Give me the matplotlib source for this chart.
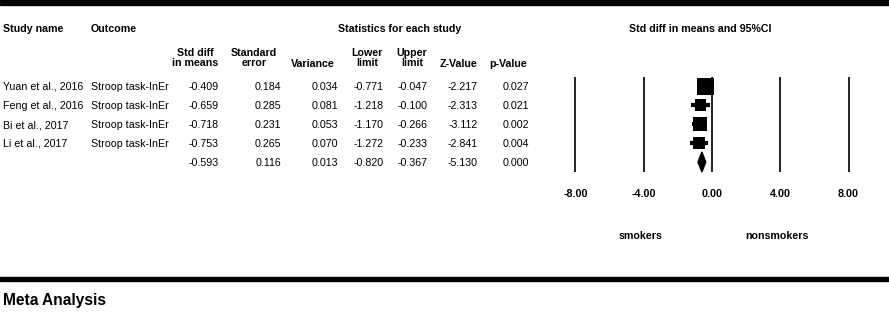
import numpy as np
import matplotlib
matplotlib.use("Agg")
import matplotlib.pyplot as plt
from matplotlib.patches import Rectangle, Polygon

# ---------------------------------------------------------------------------
# data
# ---------------------------------------------------------------------------
studies = ["Yuan et al., 2016", "Feng et al., 2016", "Bi et al., 2017", "Li et al., 2017"]
outcomes = ["Stroop task-InEr"] * 4
smd = [-0.409, -0.659, -0.718, -0.753]
se = [0.184, 0.285, 0.231, 0.265]
variance = [0.034, 0.081, 0.053, 0.070]
lower = [-0.771, -1.218, -1.170, -1.272]
upper = [-0.047, -0.100, -0.266, -0.233]
zval = [-2.217, -2.313, -3.112, -2.841]
pval = [0.027, 0.021, 0.002, 0.004]

# pooled row
pooled = {"smd": -0.593, "se": 0.116, "var": 0.013, "lo": -0.820,
          "hi": -0.367, "z": -5.130, "p": 0.000}

ticks = [-8, -4, 0, 4, 8]
tick_labels = ["-8.00", "-4.00", "0.00", "4.00", "8.00"]
left_label, right_label = "smokers", "nonsmokers"

# ---------------------------------------------------------------------------
W, H = 889, 313
DPI = 100
FS = 7.7
FONT = ["Liberation Sans", "DejaVu Sans"]
plt.rcParams["font.family"] = FONT

fig = plt.figure(figsize=(W / DPI, H / DPI), dpi=DPI)


def fx(x):
    return x / W


def fy(y):
    return 1 - y / H


def put(x, y, s, ha="left", bold=False, size=FS):
    fig.text(fx(x), fy(y), s, ha=ha, va="center", fontsize=size,
             fontweight="bold" if bold else "normal")


# black rules
fig.patches.append(Rectangle((0, fy(4.5)), 1, 4.5 / H, transform=fig.transFigure,
                             color="black", zorder=5))
fig.patches.append(Rectangle((0, fy(281)), 1, 4 / H, transform=fig.transFigure,
                             color="black", zorder=5))

# headers
put(3, 29, "Study name", bold=True)
put(91, 29, "Outcome", bold=True)
put(400, 29, "Statistics for each study", ha="center", bold=True)
put(700, 29, "Std diff in means and 95%CI", ha="center", bold=True)

sub = [(195, "Std diff\nin means"), (254, "Standard\nerror"), (367, "Lower\nlimit"),
       (412, "Upper\nlimit")]
for x, s in sub:
    fig.text(fx(x), fy(58), s, ha="center", va="center", fontsize=FS,
             fontweight="bold", linespacing=1.0)
put(313, 64, "Variance", ha="center", bold=True)
put(458, 64, "Z-Value", ha="center", bold=True)
put(508, 64, "p-Value", ha="center", bold=True)

# table body
col_right = [219, 281, 338, 384, 428, 478, 529]
row_y = [87, 106, 125, 144, 163]
for i in range(len(studies)):
    y = row_y[i]
    put(3, y, studies[i])
    put(91, y, outcomes[i])
    vals = [smd[i], se[i], variance[i], lower[i], upper[i], zval[i], pval[i]]
    for x, v in zip(col_right, vals):
        put(x, y, f"{v:.3f}", ha="right")
pv = [pooled["smd"], pooled["se"], pooled["var"], pooled["lo"], pooled["hi"],
      pooled["z"], pooled["p"]]
for x, v in zip(col_right, pv):
    put(x, row_y[-1], f"{v:.3f}", ha="right")

put(3, 300, "Meta Analysis", bold=True, size=11.2)

# ---------------------------------------------------------------------------
# forest plot
# ---------------------------------------------------------------------------
ppu = 68.3 / 4          # pixels per effect unit
x0 = 712                # pixel of zero
xl, xr = -8.5, 8.5
top, bot = 76.5, 171.5
ax = fig.add_axes([fx(x0 + xl * ppu), fy(bot), (xr - xl) * ppu / W, (bot - top) / H])
ax.set_xlim(xl, xr)
ax.set_ylim(4.5, -0.5)
for s in ax.spines.values():
    s.set_visible(False)
ax.set_yticks([])
ax.set_xticks(ticks)
ax.set_xticklabels(tick_labels, fontsize=FS, fontweight="bold")
ax.tick_params(axis="x", length=0, pad=12.5)
ax.patch.set_alpha(0)

for t in ticks:
    ax.axvline(t, color="black", lw=1.2, zorder=1)

rows = np.arange(len(studies))
ax.hlines(rows, lower, upper, color="black", lw=3, zorder=2)
w = 1 / np.array(variance)
side_px = 17 * np.sqrt(w / w.max())
side_pt = side_px * 72 / DPI
ax.scatter(smd, rows, marker="s", s=side_pt ** 2, color="black", linewidths=0, zorder=3)

yc = len(studies)
hh = 0.53
diamond = Polygon([[pooled["lo"], yc], [pooled["smd"], yc - hh],
                   [pooled["hi"], yc], [pooled["smd"], yc + hh]],
                  closed=True, color="black", clip_on=False, zorder=3)
ax.add_patch(diamond)

lab_y = 236
fig.text(fx(x0 - 4.16 * ppu), fy(lab_y), left_label, ha="center", va="center",
         fontsize=FS, fontweight="bold")
fig.text(fx(x0 + 3.8 * ppu), fy(lab_y), right_label, ha="center", va="center",
         fontsize=FS, fontweight="bold")

fig.savefig("out.png", dpi=DPI)
